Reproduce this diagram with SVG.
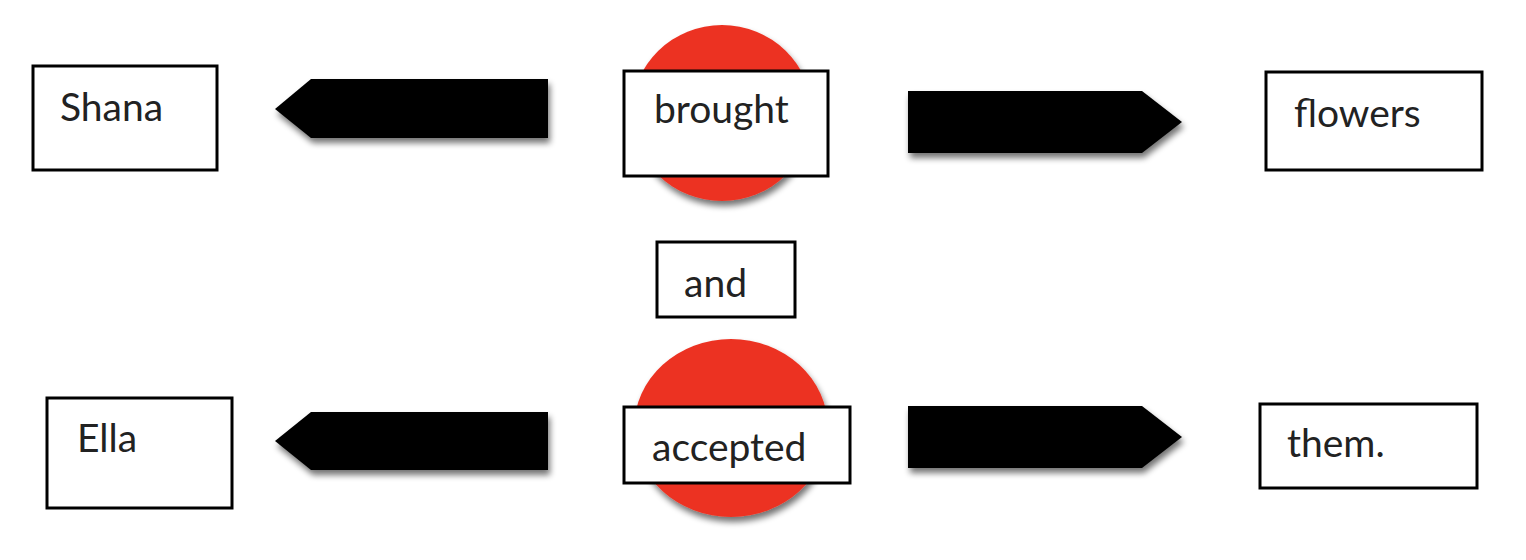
<svg xmlns="http://www.w3.org/2000/svg" width="1526" height="560" viewBox="0 0 1526 560">
<defs>
<filter id="sh" x="-20%" y="-20%" width="140%" height="150%">
<feGaussianBlur in="SourceAlpha" stdDeviation="3"/>
<feOffset dx="2" dy="5" result="b"/>
<feComponentTransfer in="b" result="c"><feFuncA type="linear" slope="0.55"/></feComponentTransfer>
<feMerge><feMergeNode in="c"/><feMergeNode in="SourceGraphic"/></feMerge>
</filter>
</defs>
<style>
.box{fill:#fff;stroke:#000;stroke-width:3}
.t{font-family:Lato,"Liberation Sans",sans-serif;font-size:39px;fill:#222}
.arr{fill:#000;filter:url(#sh)}
.circ{fill:#ec3323;filter:url(#sh)}
</style>
<g id="connectors">
<polygon class="arr" points="548,79 311,79 275,109 311,138 548,138"/>
<polygon class="arr" points="908,91 1142,91 1182,122 1142,153 908,153"/>
<polygon class="arr" points="548,412 311,412 275,441 311,470 548,470"/>
<polygon class="arr" points="908,406 1142,406 1182,437 1142,468 908,468"/>
</g>
<g id="node-shana">
<rect class="box" x="33" y="66" width="184" height="104"/>
<text class="t" x="60" y="121">Shana</text>
</g>
<g id="node-brought">
<ellipse class="circ" cx="722" cy="113" rx="90" ry="88"/>
<rect class="box" x="624" y="71" width="204" height="105"/>
<text class="t" x="654" y="123">brought</text>
</g>
<g id="node-flowers">
<rect class="box" x="1266" y="72" width="216" height="98"/>
<text class="t" x="1294" y="127">flowers</text>
</g>
<g id="node-and">
<rect class="box" x="657" y="242" width="138" height="75"/>
<text class="t" x="684" y="297">and</text>
</g>
<g id="node-accepted">
<ellipse class="circ" cx="731" cy="428" rx="97" ry="89"/>
<rect class="box" x="624" y="407" width="226" height="76"/>
<text class="t" x="652" y="461">accepted</text>
</g>
<g id="node-ella">
<rect class="box" x="47" y="398" width="185" height="110"/>
<text class="t" x="77" y="452">Ella</text>
</g>
<g id="node-them">
<rect class="box" x="1260" y="404" width="217" height="84"/>
<text class="t" x="1287" y="457">them.</text>
</g>
</svg>
